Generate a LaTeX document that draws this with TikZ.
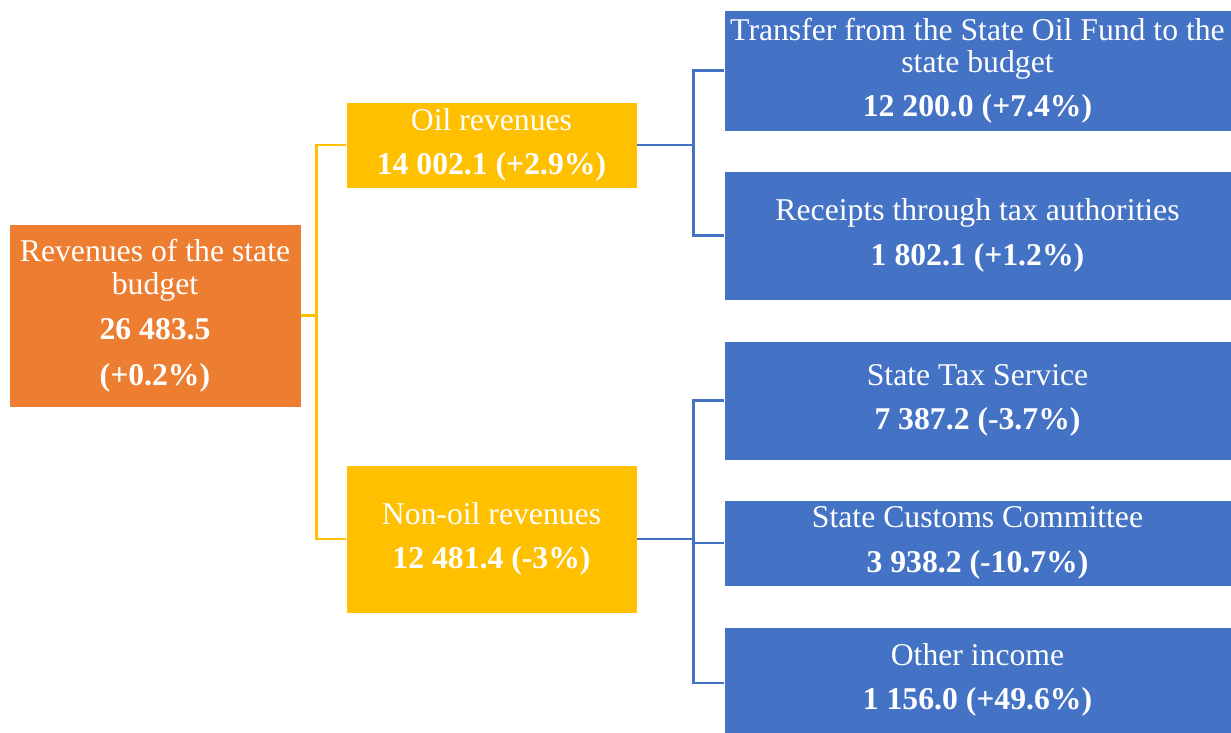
\documentclass[tikz,border=0pt]{standalone}
\usepackage{fontspec}
\setmainfont{Liberation Serif}
\definecolor{orng}{HTML}{ED7D31}
\definecolor{ylw}{HTML}{FFC000}
\definecolor{blu}{HTML}{4472C4}
\begin{document}
\begin{tikzpicture}[x=1pt,y=-1pt,
  box/.style={inner sep=0pt, text=white, align=center, draw=white, line width=0.6pt,
    font=\fontsize{31.7}{32.5}\selectfont},
  rootbox/.style={box, fill=orng, minimum width=292pt, minimum height=183pt},
  midbox/.style={box, fill=ylw, minimum width=291pt},
  leafbox/.style={box, fill=blu, minimum width=507pt},
  ylink/.style={draw=ylw, line width=2.6pt},
  blink/.style={draw=blu, line width=2.6pt}]
\useasboundingbox (0,0) rectangle (1231,733);

\node[rootbox] (root) at (155,315.5) {Revenues of the state\\budget\\[13pt]\textbf{26 483.5}\\[13pt]\textbf{(+0.2\%)}};

\node[midbox, minimum height=86pt] (oil) at (491.5,145) {Oil revenues\\[12pt]\textbf{14 002.1 (+2.9\%)}};
\node[midbox, minimum height=148pt] (non) at (491.5,539) {Non-oil revenues\\[12pt]\textbf{12 481.4 (-3\%)}};

\node[leafbox, minimum height=121pt] (b1) at (977.5,70.5) {Transfer from the State Oil Fund to the\\state budget\\[11pt]\textbf{12 200.0 (+7.4\%)}};
\node[leafbox, minimum height=129pt] (b2) at (977.5,235.5) {Receipts through tax authorities\\[12pt]\textbf{1 802.1 (+1.2\%)}};
\node[leafbox, minimum height=119pt] (b3) at (977.5,400.5) {State Tax Service\\[12pt]\textbf{7 387.2 (-3.7\%)}};
\node[leafbox, minimum height=86pt] (b4) at (977.5,543) {State Customs Committee\\[12pt]\textbf{3 938.2 (-10.7\%)}};
\node[leafbox, minimum height=106pt] (b5) at (977.5,680) {Other income\\[12pt]\textbf{1 156.0 (+49.6\%)}};

\draw[ylink] (root.east) -- ++(15,0) coordinate (ja);
\draw[ylink] (ja) |- (oil.west);
\draw[ylink] (ja) |- (non.west);

\draw[blink] (oil.east) -- ++(56,0) coordinate (jb);
\draw[blink] (jb) |- (b1.west);
\draw[blink] (jb) |- (b2.west);

\draw[blink] (non.east) -- ++(56,0) coordinate (jc);
\draw[blink] (jc) |- (b3.west);
\draw[blink] (jc) |- (b4.west);
\draw[blink] (jc) |- ([yshift=-3pt]b5.west);
\end{tikzpicture}
\end{document}
